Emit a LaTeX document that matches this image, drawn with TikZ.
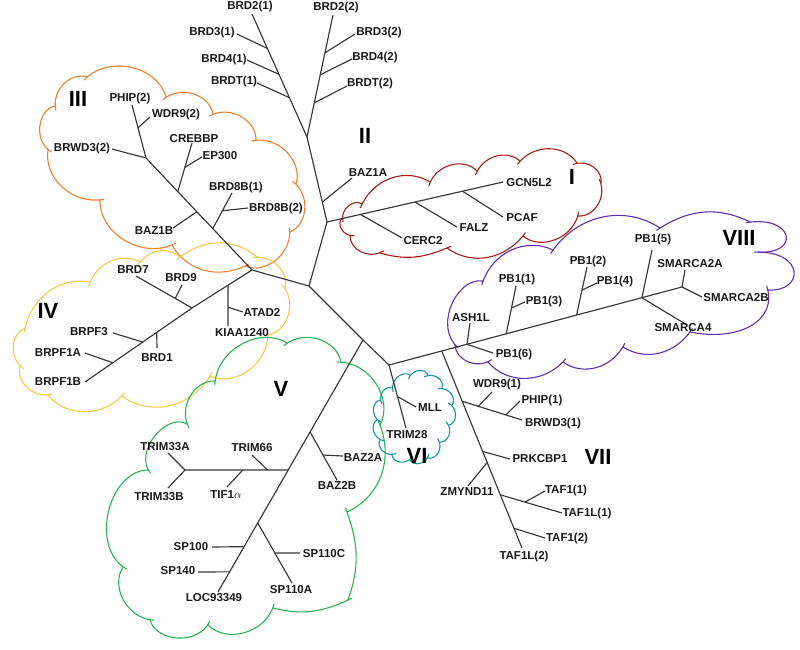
\documentclass[tikz,border=0pt]{standalone}
\usepackage{fontspec}
\setsansfont{Liberation Sans}
\usetikzlibrary{calc}
\definecolor{cIII}{RGB}{240,128,48}
\definecolor{cIV}{RGB}{250,200,70}
\definecolor{cV}{RGB}{40,180,80}
\definecolor{cVI}{RGB}{20,150,160}
\definecolor{cI}{RGB}{165,30,20}
\definecolor{cVIII}{RGB}{95,45,175}
\definecolor{treegray}{RGB}{55,55,55}
\newcommand\cloudarcs[2]{\foreach \ax/\ay/\bx/\by/\bd in {#2}
  {\draw[cl, draw=#1, shorten <=-4pt] (\ax,\ay) to[bend left=\bd] (\bx,\by);}}
\begin{document}
\begin{tikzpicture}[x=1pt,y=-1pt,
  br/.style={draw=treegray, line width=1.15pt},
  lab/.style={font=\sffamily\bfseries\fontsize{11.5}{13}\selectfont, inner sep=0pt, text=black!90},
  roman/.style={font=\sffamily\bfseries\fontsize{22}{24}\selectfont, inner sep=0pt},
  cl/.style={line width=1.1pt, line join=round, line cap=round}]
\useasboundingbox (0,0) rectangle (800,649);

% ---------- clouds ----------
\cloudarcs{cIII}{48/150/55/106/70, 55/106/87/77/60, 87/77/166/97/60, 166/97/213/114/60,
  213/114/256/140/60, 256/140/296/184/60, 296/184/290/232/60, 290/232/245/266/60,
  245/266/172/245/45, 172/245/100/200/60, 100/200/48/150/55}

\cloudarcs{cIV}{25/328/90/282/45, 90/282/140/262/50, 140/262/180/257/50, 180/257/257/257/40,
  257/257/285/288/55, 285/288/268/335/60, 268/335/210/376/60, 210/376/122/396/50,
  122/396/48/395/50, 48/395/20/366/60, 20/366/25/328/60}

\cloudarcs{cV}{187/424/215/381/60, 215/381/287/343/60, 287/343/341/362/60, 341/362/380/425/60,
  380/425/347/512/45, 347/512/348/600/20, 348/600/273/608/20, 273/608/208/625/60,
  208/625/150/620/70, 150/620/123/567/60, 123/567/148/470/75, 148/470/187/424/80}

\cloudarcs{cVI}{392/388/410/375/70, 410/375/428/375/70, 428/375/442/388/70, 442/388/452/405/70,
  452/405/449/425/70, 449/425/440/442/70, 440/442/428/458/70, 428/458/410/460/70,
  410/460/392/455/70, 392/455/380/440/70, 380/440/377/420/70, 377/420/380/400/70,
  380/400/392/388/70}

\cloudarcs{cI}{342/218/362/204/70, 362/204/430/182/50, 430/182/477/171/60, 477/171/520/161/55,
  520/161/577/163/55, 577/163/601/183/60, 601/183/578/216/60, 578/216/523/236/60,
  523/236/447/248/45, 447/248/380/253/20, 380/253/350/236/60, 350/236/342/218/70}

\cloudarcs{cVIII}{455/345/483/281/75, 483/281/553/250/50, 553/250/660/228/45, 660/228/750/222/30,
  690/332/623/347/45, 623/347/563/362/50, 563/362/488/362/50, 488/362/455/345/60}
\draw[cl, draw=cVIII, shorten <=-4pt] (750,222) .. controls (795,215) and (800,255) .. (758,252);
\draw[cl, draw=cVIII, shorten <=-4pt] (758,252) .. controls (805,250) and (805,292) .. (768,290);
\draw[cl, draw=cVIII, shorten <=-4pt] (768,290) .. controls (778,320) and (740,342) .. (690,332);

% ---------- tree coordinates ----------
\coordinate (nA) at (309,286);
\coordinate (nB) at (327,222);
\coordinate (nC) at (307,137);
\coordinate (nD) at (252,270);
\coordinate (nE) at (146,158);
\coordinate (nF) at (192,308);
\coordinate (nG) at (363,340);
\coordinate (nH) at (185,470);
\coordinate (nI) at (389,365);
\coordinate (nJ) at (682,287);

\coordinate (eBRD21) at (252,14);
\coordinate (eBRD22) at (333,15);
\coordinate (eBRD31) at (237,34);
\coordinate (eBRD41) at (247,60);
\coordinate (eBRDT1) at (257,83);
\coordinate (eBRD32) at (355,34);
\coordinate (eBRD42) at (352,59);
\coordinate (eBRDT2) at (347,86);
\coordinate (eBAZ1A) at (352,178);
\coordinate (eGCN) at (503,182);
\coordinate (eCERC2) at (402,238);
\coordinate (eFALZ) at (457,227);
\coordinate (ePCAF) at (503,217);
\coordinate (eBRD8B1) at (232,193);
\coordinate (eBRD8B2) at (248,208);
\coordinate (eBAZ1B) at (173,228);
\coordinate (eCREBBP) at (192,143);
\coordinate (eEP300) at (202,157);
\coordinate (eBRWD32) at (112,149);
\coordinate (ePHIP2) at (132,105);
\coordinate (eWDR92) at (150,117);
\coordinate (eKIAA) at (228,326);
\coordinate (eATAD2) at (243,312);
\coordinate (eBRD7) at (136,276);
\coordinate (eBRD9) at (182,285);
\coordinate (eBRPF1B) at (85,382);
\coordinate (eBRD1) at (157,348);
\coordinate (eBRPF3) at (113,333);
\coordinate (eBRPF1A) at (85,353);
\coordinate (eLOC) at (218,592);
\coordinate (eBAZ2B) at (337,480);
\coordinate (eBAZ2A) at (343,456);
\coordinate (eTRIM66) at (252,455);
\coordinate (eTIF) at (227,487);
\coordinate (eTRIM33A) at (168,453);
\coordinate (eTRIM33B) at (168,488);
\coordinate (eSP110A) at (292,583);
\coordinate (eSP110C) at (300,553);
\coordinate (eSP100) at (212,547);
\coordinate (eSP140) at (198,572);
\coordinate (eTRIM28) at (406,428);
\coordinate (eMLL) at (416,407);
\coordinate (eASH1L) at (470,323);
\coordinate (ePB16) at (493,353);
\coordinate (ePB11) at (516,286);
\coordinate (ePB13) at (525,302);
\coordinate (ePB12) at (587,267);
\coordinate (ePB14) at (597,283);
\coordinate (ePB15) at (652,250);
\coordinate (eSMARCA4) at (687,325);
\coordinate (eSMARCA2A) at (685,270);
\coordinate (eSMARCA2B) at (702,297);
\coordinate (eTAF1L2) at (522,548);
\coordinate (eBRWD31) at (522,420);
\coordinate (eWDR91) at (492,392);
\coordinate (ePHIP1) at (520,401);
\coordinate (ePRKCBP1) at (510,459);
\coordinate (eZMYND) at (468,486);
\coordinate (eTAF1L1) at (562,513);
\coordinate (eTAF11) at (545,491);
\coordinate (eTAF12) at (545,538);

% junctions
\coordinate (jBAZ1A) at ($(nB)!0.235!(nC)$);
\coordinate (jBRD31) at ($(nC)!0.72!(eBRD21)$);
\coordinate (jBRD41) at ($(nC)!0.51!(eBRD21)$);
\coordinate (jBRDT1) at ($(nC)!0.32!(eBRD21)$);
\coordinate (jBRD32) at ($(nC)!0.69!(eBRD22)$);
\coordinate (jBRD42) at ($(nC)!0.51!(eBRD22)$);
\coordinate (jBRDT2) at ($(nC)!0.28!(eBRD22)$);
\coordinate (jCERC2) at ($(nB)!0.19!(eGCN)$);
\coordinate (jFALZ) at ($(nB)!0.5!(eGCN)$);
\coordinate (jPCAF) at ($(nB)!0.77!(eGCN)$);
\coordinate (jBRD8B) at ($(nD)!0.37!(nE)$);
\coordinate (jBRD8B2) at ($(jBRD8B)!0.5!(eBRD8B1)$);
\coordinate (jBAZ1B) at ($(nD)!0.52!(nE)$);
\coordinate (jCREBBP) at ($(nD)!0.70!(nE)$);
\coordinate (jEP300) at ($(jCREBBP)!0.5!(eCREBBP)$);
\coordinate (jWDR92) at ($(nE)!0.57!(ePHIP2)$);
\coordinate (jKIAA) at ($(nD)!0.4!(nF)$);
\coordinate (jATAD2) at ($(jKIAA)!0.54!(eKIAA)$);
\coordinate (jBRD9) at ($(nF)!0.3!(eBRD7)$);
\coordinate (jBRD1) at ($(nF)!0.33!(eBRPF1B)$);
\coordinate (jBRPF3) at ($(nF)!0.46!(eBRPF1B)$);
\coordinate (jBRPF1A) at ($(nF)!0.74!(eBRPF1B)$);
\coordinate (jBAZ2) at ($(nG)!0.365!(eLOC)$);
\coordinate (jBAZ2A) at ($(jBAZ2)!0.48!(eBAZ2B)$);
\coordinate (jTRIM) at ($(nG)!0.516!(eLOC)$);
\coordinate (jTRIM66) at ($(jTRIM)!0.2!(nH)$);
\coordinate (jTIF) at ($(jTRIM)!0.44!(nH)$);
\coordinate (jSP) at ($(nG)!0.726!(eLOC)$);
\coordinate (jSP110C) at ($(jSP)!0.5!(eSP110A)$);
\coordinate (jSP100) at ($(nG)!0.82!(eLOC)$);
\coordinate (jSP140) at ($(nG)!0.92!(eLOC)$);
\coordinate (jMLL) at ($(nI)!0.5!(eTRIM28)$);
\coordinate (jVII) at ($(nI)!0.18!(nJ)$);
\coordinate (jASH) at ($(nI)!0.266!(nJ)$);
\coordinate (jPB11) at ($(nI)!0.40!(nJ)$);
\coordinate (jPB13) at ($(jPB11)!0.54!(ePB11)$);
\coordinate (jPB12) at ($(nI)!0.64!(nJ)$);
\coordinate (jPB14) at ($(jPB12)!0.52!(ePB12)$);
\coordinate (jPB15) at ($(nI)!0.863!(nJ)$);
\coordinate (jBRWD31) at ($(jVII)!0.255!(eTAF1L2)$);
\coordinate (jWDR91) at ($(jBRWD31)!0.27!(eBRWD31)$);
\coordinate (jPHIP1) at ($(jBRWD31)!0.73!(eBRWD31)$);
\coordinate (jPRK) at ($(jVII)!0.51!(eTAF1L2)$);
\coordinate (jZMY) at ($(jVII)!0.566!(eTAF1L2)$);
\coordinate (jTAF1L1) at ($(jVII)!0.73!(eTAF1L2)$);
\coordinate (jTAF11) at ($(jTAF1L1)!0.4!(eTAF1L1)$);
\coordinate (jTAF12) at ($(jVII)!0.9!(eTAF1L2)$);

% ---------- tree edges ----------
\draw[br] (nA) -- (nB);
\draw[br] (nA) -- (nD);
\draw[br] (nA) -- (nG) -- (nI);
% II
\draw[br] (nB) -- (nC);
\draw[br] (jBAZ1A) -- (eBAZ1A);
\draw[br] (nC) -- (eBRD21);
\draw[br] (nC) -- (eBRD22);
\draw[br] (jBRD31) -- (eBRD31);
\draw[br] (jBRD41) -- (eBRD41);
\draw[br] (jBRDT1) -- (eBRDT1);
\draw[br] (jBRD32) -- (eBRD32);
\draw[br] (jBRD42) -- (eBRD42);
\draw[br] (jBRDT2) -- (eBRDT2);
% I
\draw[br] (nB) -- (eGCN);
\draw[br] (jCERC2) -- (eCERC2);
\draw[br] (jFALZ) -- (eFALZ);
\draw[br] (jPCAF) -- (ePCAF);
% III
\draw[br] (nD) -- (nE);
\draw[br] (jBRD8B) -- (eBRD8B1);
\draw[br] (jBRD8B2) -- (eBRD8B2);
\draw[br] (jBAZ1B) -- (eBAZ1B);
\draw[br] (jCREBBP) -- (eCREBBP);
\draw[br] (jEP300) -- (eEP300);
\draw[br] (nE) -- (eBRWD32);
\draw[br] (nE) -- (ePHIP2);
\draw[br] (jWDR92) -- (eWDR92);
% IV
\draw[br] (nD) -- (nF) -- (eBRPF1B);
\draw[br] (jKIAA) -- (eKIAA);
\draw[br] (jATAD2) -- (eATAD2);
\draw[br] (nF) -- (eBRD7);
\draw[br] (jBRD9) -- (eBRD9);
\draw[br] (jBRD1) -- (eBRD1);
\draw[br] (jBRPF3) -- (eBRPF3);
\draw[br] (jBRPF1A) -- (eBRPF1A);
% V
\draw[br] (nG) -- (eLOC);
\draw[br] (jBAZ2) -- (eBAZ2B);
\draw[br] (jBAZ2A) -- (eBAZ2A);
\draw[br] (jTRIM) -- (nH);
\draw[br] (jTRIM66) -- (eTRIM66);
\draw[br] (jTIF) -- (eTIF);
\draw[br] (nH) -- (eTRIM33A);
\draw[br] (nH) -- (eTRIM33B);
\draw[br] (jSP) -- (eSP110A);
\draw[br] (jSP110C) -- (eSP110C);
\draw[br] (jSP100) -- (eSP100);
\draw[br] (jSP140) -- (eSP140);
% VI
\draw[br] (nI) -- (eTRIM28);
\draw[br] (jMLL) -- (eMLL);
% VIII
\draw[br] (nI) -- (nJ);
\draw[br] (jASH) -- (eASH1L);
\draw[br] (jASH) -- (ePB16);
\draw[br] (jPB11) -- (ePB11);
\draw[br] (jPB13) -- (ePB13);
\draw[br] (jPB12) -- (ePB12);
\draw[br] (jPB14) -- (ePB14);
\draw[br] (jPB15) -- (ePB15);
\draw[br] (jPB15) -- (eSMARCA4);
\draw[br] (nJ) -- (eSMARCA2A);
\draw[br] (nJ) -- (eSMARCA2B);
% VII
\draw[br] (jVII) -- (eTAF1L2);
\draw[br] (jBRWD31) -- (eBRWD31);
\draw[br] (jWDR91) -- (eWDR91);
\draw[br] (jPHIP1) -- (ePHIP1);
\draw[br] (jPRK) -- (ePRKCBP1);
\draw[br] (jZMY) -- (eZMYND);
\draw[br] (jTAF1L1) -- (eTAF1L1);
\draw[br] (jTAF11) -- (eTAF11);
\draw[br] (jTAF12) -- (eTAF12);

% ---------- labels ----------
\node[lab] (tBRD21) at (250,7) {BRD2(1)};
\node[lab] (tBRD22) at (336,8) {BRD2(2)};
\node[lab] (tBRD31) at (212,33) {BRD3(1)};
\node[lab] (tBRD41) at (224,60) {BRD4(1)};
\node[lab] (tBRDT1) at (234,82) {BRDT(1)};
\node[lab] (tBRD32) at (379,33) {BRD3(2)};
\node[lab] (tBRD42) at (375,58) {BRD4(2)};
\node[lab] (tBRDT2) at (370,84) {BRDT(2)};
\node[lab] (tBAZ1A) at (368,173) {BAZ1A};
\node[lab] (tPHIP2) at (130,99) {PHIP(2)};
\node[lab] (tWDR92) at (176,115) {WDR9(2)};
\node[lab] (tCREBBP) at (194,139) {CREBBP};
\node[lab] (tEP300) at (220,156) {EP300};
\node[lab] (tBRWD32) at (82,149) {BRWD3(2)};
\node[lab] (tBRD8B1) at (236,188) {BRD8B(1)};
\node[lab] (tBRD8B2) at (276,209) {BRD8B(2)};
\node[lab] (tBAZ1B) at (154,231) {BAZ1B};
\node[lab] (tBRD7) at (133,270) {BRD7};
\node[lab] (tBRD9) at (181,278) {BRD9};
\node[lab] (tATAD2) at (262,312) {ATAD2};
\node[lab] (tKIAA) at (242,333) {KIAA1240};
\node[lab] (tBRPF3) at (89,332) {BRPF3};
\node[lab] (tBRPF1A) at (58,353) {BRPF1A};
\node[lab] (tBRPF1B) at (58,382) {BRPF1B};
\node[lab] (tBRD1) at (157,358) {BRD1};
\node[lab] (tTRIM33A) at (165,447) {TRIM33A};
\node[lab] (tTRIM66) at (252,448) {TRIM66};
\node[lab] (tTRIM33B) at (159,497) {TRIM33B};
\node[lab] (tTIF) at (226,495) {TIF1$\alpha$};
\node[lab] (tBAZ2A) at (363,457) {BAZ2A};
\node[lab] (tBAZ2B) at (337,485) {BAZ2B};
\node[lab] (tSP100) at (191,547) {SP100};
\node[lab] (tSP140) at (178,571) {SP140};
\node[lab] (tLOC) at (214,598) {LOC93349};
\node[lab] (tSP110C) at (324,554) {SP110C};
\node[lab] (tSP110A) at (291,590) {SP110A};
\node[lab] (tPB16) at (514,355) {PB1(6)};
\node[lab] (tWDR91) at (497,385) {WDR9(1)};
\node[lab] (tPHIP1) at (542,401) {PHIP(1)};
\node[lab] (tBRWD31) at (553,424) {BRWD3(1)};
\node[lab] (tMLL) at (430,408) {MLL};
\node[lab] (tTRIM28) at (407,435) {TRIM28};
\node[lab] (tPRKCBP1) at (540,459) {PRKCBP1};
\node[lab] (tZMYND) at (467,492) {ZMYND11};
\node[lab] (tTAF11) at (566,491) {TAF1(1)};
\node[lab] (tTAF1L1) at (587,514) {TAF1L(1)};
\node[lab] (tTAF12) at (567,539) {TAF1(2)};
\node[lab] (tTAF1L2) at (524,557) {TAF1L(2)};
\node[lab] (tGCN) at (529,183) {GCN5L2};
\node[lab] (tPCAF) at (522,218) {PCAF};
\node[lab] (tFALZ) at (474,228) {FALZ};
\node[lab] (tCERC2) at (423,241) {CERC2};
\node[lab] (tPB15) at (653,240) {PB1(5)};
\node[lab] (tPB12) at (588,262) {PB1(2)};
\node[lab] (tPB14) at (615,282) {PB1(4)};
\node[lab] (tPB11) at (517,280) {PB1(1)};
\node[lab] (tPB13) at (544,302) {PB1(3)};
\node[lab] (tASH1L) at (471,318) {ASH1L};
\node[lab] (tSMARCA2A) at (690,264) {SMARCA2A};
\node[lab] (tSMARCA2B) at (736,298) {SMARCA2B};
\node[lab] (tSMARCA4) at (683,328) {SMARCA4};

% clade numerals
\node[roman] (rI) at (572,177) {I};
\node[roman] (rII) at (365,136) {II};
\node[roman] (rIII) at (78,99) {III};
\node[roman] (rIV) at (48,311) {IV};
\node[roman] (rV) at (281,389) {V};
\node[roman] (rVI) at (417,456) {VI};
\node[roman] (rVII) at (598,457) {VII};
\node[roman] (rVIII) at (739,238) {VIII};
\end{tikzpicture}
\end{document}
